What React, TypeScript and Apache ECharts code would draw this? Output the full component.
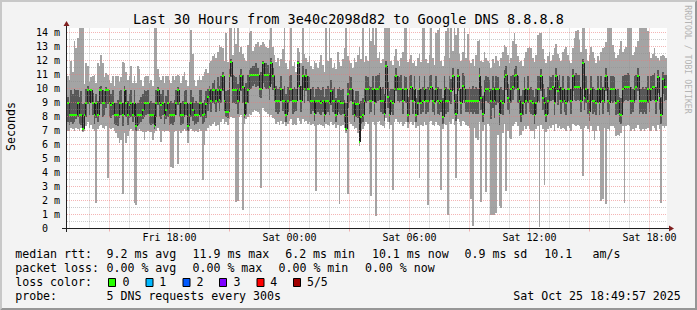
import React, { useEffect, useRef } from 'react';
import * as echarts from 'echarts';

// ---- time axis (hours counted from Fri 00:00) ----
const START_HOUR = 12.875;
const STEP_HOURS = 5 / 60; // 300 s
const END_HOUR = 42.875;

// ---- per-step values (ms): min, 2nd, median, 4th, max of 5 pings ----
const MED = [
  9.0,8.1,8.1,8.1,8.1,8.1,9.0,8.1,8.1,7.1,8.1,9.0,9.9,9.0,9.9,9.0,8.1,9.0,8.1,9.9,
  9.9,9.0,9.0,9.9,9.9,9.0,8.8,9.0,8.1,8.1,8.1,9.0,9.0,8.1,9.9,9.0,8.1,8.8,9.0,8.1,
  9.0,7.3,8.1,8.1,8.1,8.5,9.0,9.0,9.0,8.1,8.1,8.1,7.3,9.0,9.9,9.0,8.8,9.0,8.1,8.5,
  9.0,8.1,8.1,8.1,8.1,9.0,9.9,9.0,8.1,8.1,9.0,9.0,7.3,8.1,9.0,8.5,8.1,8.1,8.1,9.0,
  9.0,8.1,8.2,8.9,9.4,9.9,9.1,9.9,9.9,9.1,9.9,9.2,9.9,10.9,9.1,8.3,8.3,10.9,11.9,9.9,
  9.9,9.9,9.1,9.9,10.9,10.1,8.1,9.0,9.9,10.9,11.0,11.0,11.0,11.0,11.0,10.0,10.0,11.8,11.0,11.0,
  11.0,10.1,11.8,10.9,10.0,9.1,9.1,9.1,10.0,9.1,9.1,8.1,9.1,10.0,10.0,9.1,9.1,9.1,11.8,10.2,
  9.1,10.9,10.0,10.9,10.0,10.0,9.1,9.1,8.2,9.1,9.1,9.1,9.0,9.1,8.1,9.1,9.1,9.0,9.8,9.1,
  9.1,8.1,9.1,9.1,9.0,9.0,8.1,7.1,9.6,10.0,10.0,9.0,8.1,8.9,8.9,6.2,8.0,8.1,9.1,10.0,
  10.0,9.1,9.1,10.0,9.0,10.0,10.0,10.1,9.1,9.1,8.2,11.6,9.4,8.1,9.1,9.0,10.0,10.9,10.0,10.0,
  10.0,9.1,10.0,10.0,8.1,10.0,10.1,9.1,10.0,8.1,9.0,10.0,9.0,9.1,10.0,9.1,9.1,10.0,10.1,9.1,
  9.0,10.0,9.1,9.0,9.1,8.0,10.0,9.1,9.1,10.0,9.8,10.9,9.1,8.2,10.9,10.0,9.0,10.2,10.0,9.1,
  9.1,9.1,9.1,9.1,9.1,9.1,9.1,10.9,9.3,8.2,9.8,10.0,10.0,9.8,9.1,10.0,9.1,10.0,10.0,8.2,
  9.1,9.0,10.8,11.0,9.3,9.1,10.0,10.1,10.9,11.0,10.0,9.1,8.2,9.0,10.0,9.1,10.0,9.1,9.1,9.0,
  8.1,9.0,10.0,10.0,10.9,9.3,9.0,8.1,9.1,10.0,10.0,10.1,9.0,10.9,9.8,10.1,9.1,10.0,9.1,9.0,
  10.0,10.0,9.1,10.9,10.1,10.1,10.1,10.1,9.1,11.8,9.3,10.0,9.1,8.3,10.0,9.1,9.1,9.0,10.0,9.0,
  10.0,9.1,10.0,10.9,9.1,9.0,10.0,10.0,10.0,9.0,9.1,8.2,8.1,10.0,10.1,10.1,10.1,10.1,9.1,9.1,
  10.0,10.1,10.9,9.1,9.1,9.1,9.1,9.1,10.0,9.1,10.0,10.1,10.1,9.1,10.8,9.3,8.1,10.7,10.1,10.1,
];
const LO = [
  7.0,7.0,7.2,7.1,7.0,7.2,7.1,7.0,7.2,6.9,7.0,7.3,7.6,7.2,7.4,7.1,7.0,1.8,7.1,7.3,
  7.4,7.2,7.1,7.3,3.6,7.2,7.1,7.2,7.0,6.8,6.5,6.1,6.3,2.5,6.8,6.1,6.6,7.0,7.1,7.0,
  1.8,1.7,7.0,7.1,7.0,6.9,6.3,6.9,7.0,6.9,6.9,6.3,6.8,7.0,7.2,7.0,6.2,7.0,6.9,7.0,
  7.0,6.9,4.4,4.3,6.9,7.0,4.6,7.0,6.8,7.0,7.1,7.0,6.1,7.0,7.1,7.0,6.9,7.0,6.9,7.1,
  7.0,3.5,6.0,7.0,7.2,7.4,7.3,7.5,7.6,7.3,7.4,7.0,7.6,7.8,7.5,7.6,7.4,7.8,8.0,7.9,
  7.9,1.9,2.0,8.0,8.1,1.35,7.5,7.8,8.0,8.2,8.1,8.3,8.5,8.4,8.3,8.2,2.9,8.6,8.4,8.3,
  8.2,8.0,8.1,7.9,7.8,7.5,7.6,7.4,7.7,7.5,7.6,7.3,7.5,7.7,7.8,7.4,7.5,7.4,7.9,7.7,
  7.5,7.8,7.6,7.7,7.5,7.6,7.4,7.5,7.3,2.7,7.4,7.5,7.4,7.3,7.2,7.5,7.4,7.3,7.6,7.4,
  7.5,7.2,7.4,1.75,7.3,7.4,7.2,6.8,2.5,7.6,7.5,7.3,7.1,7.2,6.8,5.9,7.0,7.1,7.3,7.6,
  7.5,5.5,2.3,7.6,7.4,0.9,7.6,7.7,7.4,7.3,7.2,7.9,7.6,7.1,7.4,2.75,7.6,7.8,7.6,7.5,
  7.6,7.3,7.5,7.6,7.2,7.5,7.6,7.4,7.6,7.2,7.3,3.6,7.4,7.3,7.6,7.4,1.7,7.6,7.7,7.4,
  7.3,7.6,7.4,7.3,2.75,7.1,7.5,7.4,0.95,7.6,7.5,7.8,7.4,3.6,7.8,7.6,7.3,7.7,7.6,7.4,
  7.3,7.2,2.1,0.15,7.2,6.5,6.3,7.6,1.9,7.0,7.4,2.6,7.5,7.3,1.0,0.95,1.0,1.1,6.7,1.6,
  1.5,6.8,7.5,2.7,7.0,6.5,6.4,7.3,7.5,7.6,7.3,6.6,6.7,7.0,7.3,7.1,7.3,7.1,7.0,7.0,
  6.4,7.1,7.3,0.1,7.4,7.1,3.1,6.9,7.1,7.3,7.2,7.4,7.0,7.5,7.2,7.3,7.1,7.2,7.1,7.0,
  7.3,7.2,7.0,7.5,7.4,7.3,7.4,7.3,7.1,3.75,7.2,7.3,7.1,6.9,7.3,7.0,6.3,7.0,7.3,7.0,
  2.0,2.1,7.2,1.75,7.1,7.0,7.3,7.3,7.2,6.6,6.7,6.6,6.8,7.3,1.8,7.3,7.4,7.3,7.0,7.1,
  7.0,7.2,7.4,7.1,7.0,7.1,7.0,7.1,7.2,7.0,7.0,7.3,7.2,7.0,7.4,7.1,1.8,7.3,7.2,7.3,
];
const Q1 = [
  7.6,7.4,7.6,7.5,7.6,7.8,8.0,7.5,7.4,7.0,7.6,8.0,8.9,8.1,9.0,8.1,7.5,7.9,7.6,8.5,
  8.9,8.0,8.1,8.6,8.9,8.0,7.9,8.1,7.5,7.4,7.3,7.9,8.1,7.3,8.8,8.0,7.4,7.9,8.0,7.6,
  8.0,7.0,7.4,7.5,7.6,7.8,8.0,8.1,8.2,7.5,7.4,7.5,7.1,8.0,8.8,8.0,7.8,8.1,7.5,7.8,
  8.0,7.4,7.5,7.4,7.6,8.1,8.8,8.0,7.4,7.5,8.0,8.1,7.0,7.4,8.0,7.7,7.4,7.5,7.6,8.1,
  8.0,7.5,7.6,7.9,8.4,8.9,8.3,9.0,8.9,8.3,9.0,8.4,9.0,9.8,8.4,8.0,7.9,9.9,10.8,9.0,
  9.0,8.9,8.2,9.0,9.8,9.0,7.9,8.2,9.0,9.9,10.0,10.2,10.3,10.1,10.2,9.4,9.3,10.4,10.1,10.0,
  10.0,9.2,10.3,9.9,9.1,8.3,8.2,8.3,9.1,8.4,8.2,7.6,8.3,9.0,9.1,8.2,8.3,8.4,10.1,9.2,
  8.3,9.9,9.0,9.8,9.1,9.0,8.2,8.4,7.7,8.2,8.3,8.2,8.1,8.3,7.6,8.2,8.3,8.1,8.8,8.3,
  8.2,7.6,8.3,8.2,8.1,8.2,7.6,7.0,8.6,9.0,9.1,8.1,7.6,8.0,7.9,6.1,7.5,7.6,8.3,9.0,
  9.1,8.2,8.3,9.1,8.1,9.0,9.1,9.2,8.3,8.2,7.7,10.0,8.6,7.6,8.3,8.1,9.0,9.8,9.1,9.0,
  9.1,8.2,9.1,9.0,7.6,9.0,9.2,8.2,9.1,7.6,8.1,9.0,8.2,8.3,9.1,8.2,8.3,9.0,9.2,8.3,
  8.1,9.1,8.2,8.1,8.3,7.5,9.0,8.2,8.3,9.1,8.9,9.9,8.2,7.7,9.8,9.1,8.2,9.2,9.0,8.3,
  8.3,8.2,8.3,8.2,8.3,8.2,8.2,9.8,8.5,7.6,8.8,9.1,9.0,8.9,7.8,8.6,7.9,8.8,9.0,7.4,
  8.2,8.1,9.6,9.9,8.5,8.2,9.0,9.2,9.9,10.0,9.0,8.2,7.6,8.1,9.1,8.2,9.0,8.3,8.2,8.1,
  7.5,8.2,9.1,9.0,9.8,8.5,8.1,7.6,8.2,9.0,9.1,9.2,8.1,9.9,8.8,9.2,8.2,9.0,8.3,8.1,
  9.1,9.0,8.2,9.8,9.2,9.1,9.2,9.1,8.3,10.0,8.5,9.0,8.2,7.7,9.1,8.2,8.3,8.1,9.0,8.1,
  9.1,8.2,9.0,9.8,8.3,8.1,9.1,9.0,9.1,8.1,8.2,7.6,7.5,9.0,9.1,9.2,9.1,9.2,8.2,8.3,
  9.0,9.2,9.8,8.2,8.3,8.2,8.3,8.2,9.0,8.3,9.1,9.2,9.1,8.2,9.7,8.5,7.5,9.6,9.1,9.2,
];
const Q3 = [
  9.4,9.0,9.9,9.6,10.0,9.9,9.9,9.4,9.8,8.9,9.0,10.0,10.2,9.9,10.0,9.7,9.0,9.6,9.1,10.1,
  10.2,9.9,9.8,10.1,10.0,9.9,9.6,9.9,9.0,9.0,9.2,9.8,9.9,9.0,10.2,9.9,9.1,9.6,9.9,9.0,
  9.9,8.9,9.0,9.2,9.4,9.6,9.9,9.8,9.9,9.0,9.1,9.0,9.0,9.9,10.1,9.9,9.6,9.9,9.0,9.5,
  9.9,9.0,9.1,9.0,9.2,9.9,10.1,9.9,9.0,9.1,9.8,9.9,8.9,9.0,9.9,9.4,9.0,9.1,9.0,9.9,
  9.9,9.0,9.2,9.8,10.0,10.2,10.0,10.4,10.6,10.0,10.8,10.2,10.9,11.2,10.1,9.8,9.9,11.4,12.1,11.0,
  10.9,10.8,10.3,11.0,11.4,11.0,10.0,10.4,11.0,11.3,11.5,11.6,11.6,11.8,11.5,11.0,11.2,12.0,11.7,11.8,
  11.7,11.1,12.2,11.5,11.0,10.2,10.0,10.1,10.9,10.0,10.2,9.6,10.1,10.9,11.0,10.0,10.1,10.0,12.0,11.2,
  10.2,11.6,11.0,11.4,10.9,10.8,10.0,10.1,9.4,10.0,10.1,10.0,9.9,10.1,9.4,10.0,10.2,10.0,10.6,10.0,
  10.1,9.3,10.0,10.1,9.9,10.0,9.2,9.0,10.4,10.9,10.8,9.9,9.2,9.8,9.8,8.9,9.1,9.3,10.0,10.9,
  10.8,10.2,10.1,10.9,10.0,10.9,11.0,11.1,10.0,10.1,9.6,12.0,10.5,9.8,10.0,10.0,10.9,11.5,10.9,10.8,
  11.0,10.0,10.9,10.8,9.4,10.9,11.0,10.0,10.9,9.3,9.9,10.9,10.0,10.1,10.9,10.0,10.1,10.9,11.0,10.0,
  9.9,10.9,10.1,10.0,10.0,9.3,10.9,10.1,10.0,10.9,10.7,11.5,10.1,9.6,11.4,10.9,10.0,11.1,10.9,10.0,
  10.0,10.1,10.0,10.2,10.0,10.1,10.0,11.5,10.2,9.5,10.6,10.9,10.8,10.6,10.0,10.9,10.1,10.9,10.8,9.5,
  10.1,9.9,11.3,11.6,10.3,10.0,10.9,11.0,11.4,11.6,10.9,10.0,9.5,9.9,10.8,10.0,10.9,10.0,10.1,9.9,
  9.4,10.0,10.9,10.9,11.4,10.3,10.0,9.4,10.1,10.9,10.8,11.0,10.0,11.5,10.6,11.0,10.1,10.9,10.0,9.9,
  10.9,10.8,10.0,11.4,11.0,11.1,11.0,11.0,10.0,12.1,10.3,10.9,10.0,9.6,10.9,10.1,10.0,9.9,10.9,10.0,
  10.9,10.1,10.8,11.5,10.1,9.9,10.9,10.9,10.8,9.9,10.0,9.4,9.3,10.9,11.0,11.0,11.1,11.0,10.1,10.0,
  10.9,11.0,11.5,10.1,10.0,10.1,10.0,10.1,10.9,10.0,10.9,11.0,11.1,10.1,11.3,10.3,9.4,11.2,11.0,11.0,
];
const HI = [
  10.9,10.6,12.0,11.2,13.4,12.9,13.6,14.3,14.3,14.3,10.3,11.8,11.6,10.5,10.8,10.9,11.0,10.4,11.8,11.6,
  12.4,11.8,10.8,11.1,11.0,10.6,10.4,10.9,10.2,10.9,10.9,10.5,10.8,11.9,11.8,11.2,10.6,10.9,11.6,10.4,
  10.9,10.4,11.6,11.4,10.6,10.2,10.8,10.9,10.9,10.4,10.6,10.2,14.3,14.3,11.4,10.8,10.6,10.9,10.4,10.9,
  10.9,10.6,10.4,10.9,10.6,10.9,11.0,10.9,10.4,10.9,11.2,10.6,10.2,11.9,14.2,12.5,10.6,10.2,10.6,10.9,
  10.6,10.9,11.2,11.4,11.1,11.8,12.0,12.3,12.5,12.2,12.6,13.1,13.0,12.9,12.0,14.0,11.9,14.3,14.3,12.4,
  14.3,13.2,14.3,12.6,13.0,12.5,12.2,12.0,13.1,14.0,14.1,12.7,13.0,13.2,13.3,13.0,13.1,13.3,13.2,13.0,
  12.9,13.5,14.3,13.0,12.4,11.9,12.2,11.6,12.1,12.8,14.3,11.8,11.4,12.0,14.3,11.6,11.9,11.2,12.9,12.6,
  11.8,14.3,12.5,12.2,11.9,12.3,11.6,11.4,12.0,11.8,11.5,11.9,12.4,11.7,11.2,14.3,12.0,14.3,12.2,11.5,
  11.8,11.4,12.6,11.9,11.6,12.1,12.9,14.3,12.3,12.0,11.8,11.5,12.2,11.9,12.4,13.0,12.1,14.3,11.9,12.3,
  12.0,14.3,13.4,14.3,13.1,14.3,12.2,12.6,11.8,12.1,14.3,14.3,14.3,14.3,12.0,11.7,12.3,12.8,12.0,11.6,
  12.2,12.6,14.3,14.3,11.9,12.1,12.4,11.8,12.0,11.6,12.2,12.5,11.9,14.3,14.3,12.1,11.8,12.4,14.3,12.2,
  11.7,14.0,14.2,14.3,12.0,11.6,12.3,14.1,14.3,12.2,14.3,12.7,14.3,13.8,14.3,12.5,12.0,12.6,14.3,12.2,
  13.9,12.0,11.8,12.1,11.6,12.4,13.4,13.5,12.0,11.9,12.6,12.2,12.0,11.8,11.5,12.1,11.8,12.3,12.0,11.6,
  12.2,12.6,13.1,13.0,12.4,11.8,12.2,13.4,14.0,13.2,12.3,11.9,12.0,11.6,12.2,12.6,12.9,13.0,12.9,12.2,
  11.9,12.4,13.8,14.0,14.0,12.8,12.1,11.8,12.3,12.6,12.0,12.4,12.9,13.2,12.5,12.2,12.0,12.6,12.8,13.0,
  12.4,12.0,11.8,12.9,13.6,14.1,14.2,13.5,12.6,14.3,14.3,12.8,12.0,12.4,13.0,12.6,12.2,11.8,12.3,12.0,
  12.6,12.9,13.0,13.3,14.3,14.3,14.3,13.1,12.6,12.2,12.4,12.8,13.4,12.6,12.8,13.0,14.3,14.3,14.3,12.4,
  12.6,13.0,13.4,14.3,14.3,14.3,14.3,14.3,14.1,12.6,12.2,12.5,12.9,12.3,12.2,12.0,12.3,12.4,12.3,12.2,
];

// ---- axes ----
const X_LABEL_HOURS = [18, 24, 30, 36, 42];
const X_LABELS = ['Fri 18:00', 'Sat 00:00', 'Sat 06:00', 'Sat 12:00', 'Sat 18:00'];
const Y_LABEL_VALUES = [0, 1, 2, 3, 4, 5, 6, 7, 8, 9, 10, 11, 12, 13, 14];
const V_MAJOR = [15, 18, 21, 24, 27, 30, 33, 36, 39, 42];
const V_MINOR = [13, 14, 16, 17, 19, 20, 22, 23, 25, 26, 28, 29, 31, 32, 34, 35, 37, 38, 40, 41];
const H_MAJOR = [1, 2, 3, 4, 5, 6, 7, 8, 9, 10, 11, 12, 13, 14];
const H_MINOR = [0.5, 1.5, 2.5, 3.5, 4.5, 5.5, 6.5, 7.5, 8.5, 9.5, 10.5, 11.5, 12.5, 13.5];

// ---- texts ----
const TITLE = 'Last 30 Hours from 3e40c2098d82 to Google DNS 8.8.8.8';
const Y_NAME = 'Seconds';
const WATERMARK = 'RRDTOOL / TOBI OETIKER';
const RTT_LABEL = 'median rtt:';
const RTT_STATS = ['9.2 ms avg', '11.9 ms max', '6.2 ms min', '10.1 ms now', '0.9 ms sd', '10.1', 'am/s'];
const LOSS_LABEL = 'packet loss:';
const LOSS_STATS = ['0.00 % avg', '0.00 % max', '0.00 % min', '0.00 % now'];
const COLOR_LABEL = 'loss color:';
const LOSS_NAMES = ['0', '1', '2', '3', '4', '5/5'];
const LOSS_COLORS = ['#26ff00', '#00b8ff', '#0059ff', '#7e00ff', '#ff0000', '#a00000'];
const PROBE_LABEL = 'probe:';
const PROBE_TEXT = '5 DNS requests every 300s';
const STAMP = 'Sat Oct 25 18:49:57 2025';

// ---- layout ----
const W = 697;
const H = 310;
const GRID_LEFT = 67;
const GRID_TOP = 28;
const GRID_W = 600;
const GRID_H = 200.5;
const Y_MAX = GRID_H / 14;
const MONO = 'DejaVu Sans Mono';
const LEG_FONT = 11.6;
const ROW_Y = [254.3, 268.3, 282.3, 296.3];
const LABEL_X = 15.2;
const RTT_X = [106.5, 192.5, 285.2, 371.9, 464.5, 544.2, 592.5];
const LOSS_X = [106.5, 192.5, 278.5, 364.9];
const SWATCH_X = [108, 145.5, 182.5, 219, 256.5, 293];
const NAME_X = [122.5, 159.3, 196.5, 233.5, 270.2, 306.9];

const MAJOR_COLOR = 'rgba(235,120,120,0.55)';
const MINOR_COLOR = 'rgba(140,140,140,0.45)';

function legendText(text: string, x: number, y: number, align = 'left') {
  return {
    type: 'text',
    x,
    y,
    z: 50,
    silent: true,
    style: {
      text,
      fill: '#000',
      fontFamily: MONO,
      fontSize: LEG_FONT,
      align,
      verticalAlign: 'middle',
      textAlign: align,
      textVerticalAlign: 'middle',
    },
  };
}

function buildOption() {
  const data = MED.map((m, i) => [START_HOUR + i * STEP_HOURS, LO[i], Q1[i], m, Q3[i], HI[i], i > 0 ? MED[i - 1] : m]);

  const markData: any[] = [];
  V_MINOR.forEach((v) => markData.push({ xAxis: v, lineStyle: { color: MINOR_COLOR, type: [1, 1], width: 1 } }));
  H_MINOR.forEach((v) => markData.push({ yAxis: v, lineStyle: { color: MINOR_COLOR, type: [1, 1], width: 1 } }));
  V_MAJOR.forEach((v) => markData.push({ xAxis: v, lineStyle: { color: MAJOR_COLOR, type: [1, 1], width: 1 } }));
  H_MAJOR.forEach((v) => markData.push({ yAxis: v, lineStyle: { color: MAJOR_COLOR, type: [1, 1], width: 1 } }));

  const graphics: any[] = [];
  // 3D frame
  graphics.push({
    type: 'polygon', z: 60, silent: true,
    shape: { points: [[0, H], [2, H - 2], [2, 2], [W - 2, 2], [W, 0], [0, 0]] },
    style: { fill: '#c8c8c8' },
  });
  graphics.push({
    type: 'polygon', z: 60, silent: true,
    shape: { points: [[2, H - 2], [W - 2, H - 2], [W - 2, 2], [W, 0], [W, H], [0, H]] },
    style: { fill: '#969696' },
  });
  // axes
  graphics.push({ type: 'line', z: 40, silent: true, shape: { x1: 62, y1: 228.5, x2: 670, y2: 228.5 }, style: { stroke: '#202020', lineWidth: 1 } });
  graphics.push({ type: 'line', z: 40, silent: true, shape: { x1: 66.5, y1: 232, x2: 66.5, y2: 25 }, style: { stroke: '#202020', lineWidth: 1 } });
  graphics.push({ type: 'polygon', z: 41, silent: true, shape: { points: [[669, 225.5], [674, 228.5], [669, 231.5]] }, style: { fill: '#7f1f1f' } });
  graphics.push({ type: 'polygon', z: 41, silent: true, shape: { points: [[63.5, 26], [66.5, 21], [69.5, 26]] }, style: { fill: '#7f1f1f' } });
  // y title
  graphics.push({
    type: 'text', x: 11, y: 126.5, rotation: Math.PI / 2, z: 50, silent: true,
    style: { text: Y_NAME, fill: '#000', fontFamily: MONO, fontSize: LEG_FONT, align: 'center', verticalAlign: 'middle', textAlign: 'center', textVerticalAlign: 'middle' },
  });
  // watermark
  graphics.push({
    type: 'text', x: 688, y: 59.5, rotation: -Math.PI / 2, z: 50, silent: true,
    style: { text: WATERMARK, fill: '#b4b4b4', fontFamily: MONO, fontSize: 8.2, align: 'center', verticalAlign: 'middle', textAlign: 'center', textVerticalAlign: 'middle' },
  });
  // legend rows
  graphics.push(legendText(RTT_LABEL, LABEL_X, ROW_Y[0]));
  RTT_STATS.forEach((t, i) => graphics.push(legendText(t, RTT_X[i], ROW_Y[0])));
  graphics.push(legendText(LOSS_LABEL, LABEL_X, ROW_Y[1]));
  LOSS_STATS.forEach((t, i) => graphics.push(legendText(t, LOSS_X[i], ROW_Y[1])));
  graphics.push(legendText(COLOR_LABEL, LABEL_X, ROW_Y[2]));
  LOSS_NAMES.forEach((t, i) => {
    graphics.push({
      type: 'rect', z: 50, silent: true,
      shape: { x: SWATCH_X[i] + 0.5, y: 278.5, width: 7, height: 8 },
      style: { fill: LOSS_COLORS[i], stroke: '#000', lineWidth: 1 },
    });
    graphics.push(legendText(t, NAME_X[i], ROW_Y[2]));
  });
  graphics.push(legendText(PROBE_LABEL, LABEL_X, ROW_Y[3]));
  graphics.push(legendText(PROBE_TEXT, 106.5, ROW_Y[3]));
  graphics.push(legendText(STAMP, 680.8, ROW_Y[3], 'right'));

  return {
    animation: false,
    backgroundColor: '#f3f3f3',
    title: {
      text: TITLE,
      left: 'center',
      top: 12,
      padding: 0,
      textStyle: { fontFamily: MONO, fontSize: 13.5, fontWeight: 'normal', color: '#000' },
    },
    grid: {
      left: GRID_LEFT, top: GRID_TOP, width: GRID_W, height: GRID_H,
      show: true, backgroundColor: '#ffffff', borderWidth: 0,
    },
    xAxis: {
      type: 'value',
      min: START_HOUR,
      max: END_HOUR,
      axisLine: { show: false },
      splitLine: { show: false },
      axisTick: { show: true, customValues: V_MAJOR, length: 3, lineStyle: { color: MAJOR_COLOR } },
      axisLabel: {
        customValues: X_LABEL_HOURS,
        formatter: (v: number) => {
          const idx = X_LABEL_HOURS.indexOf(Math.round(v));
          return idx >= 0 ? X_LABELS[idx] : '';
        },
        fontFamily: MONO, fontSize: 10, color: '#000', margin: 4,
      },
    },
    yAxis: {
      type: 'value',
      min: 0,
      max: Y_MAX,
      axisLine: { show: false },
      axisTick: { show: false },
      splitLine: { show: false },
      axisLabel: {
        customValues: Y_LABEL_VALUES,
        formatter: (v: number) => (Math.round(v) === 0 ? '{z|0}' : `${Math.round(v)} m`),
        rich: { z: { fontFamily: MONO, fontSize: 10, color: '#000', padding: [0, 12, 0, 0] } },
        fontFamily: MONO, fontSize: 10, color: '#000', margin: 7,
      },
    },
    graphic: graphics,
    series: [
      {
        type: 'custom',
        z: 2,
        silent: true,
        clip: true,
        data,
        encode: { x: 0, y: [1, 5] },
        renderItem: (params: any, api: any) => {
          const t = api.value(0);
          const xl = Math.round(api.coord([t, 0])[0]);
          const xr = Math.round(api.coord([t + STEP_HOURS, 0])[0]);
          const w = xr - xl;
          const py = (v: number) => Math.round(api.coord([t, v])[1]);
          const yLo = py(api.value(1));
          const yQ1 = py(api.value(2));
          const yMed = py(api.value(3));
          const yQ3 = py(api.value(4));
          const yHi = py(api.value(5));
          const yPrev = py(api.value(6));
          const children: any[] = [
            { type: 'rect', shape: { x: xl, y: yHi, width: w, height: Math.max(1, yLo - yHi) }, style: { fill: '#a4a4a4' } },
            { type: 'rect', shape: { x: xl, y: yQ3, width: w, height: Math.max(1, yQ1 - yQ3) }, style: { fill: '#585858' } },
          ];
          if (yPrev !== yMed) {
            children.push({ type: 'line', shape: { x1: xl + 0.5, y1: yPrev, x2: xl + 0.5, y2: yMed }, style: { stroke: '#202020', lineWidth: 1 } });
          }
          children.push({ type: 'rect', shape: { x: xl, y: yMed - 1, width: w, height: 2 }, style: { fill: LOSS_COLORS[0] } });
          return { type: 'group', children };
        },
      },
      {
        type: 'line',
        z: 5,
        silent: true,
        data: [],
        markLine: {
          silent: true,
          symbol: ['none', 'none'],
          label: { show: false },
          animation: false,
          data: markData,
        },
      },
    ],
  };
}

export default function App() {
  const ref = useRef<HTMLDivElement>(null);
  useEffect(() => {
    if (!ref.current) return;
    const chart = echarts.init(ref.current, null, { renderer: 'svg' });
    chart.setOption(buildOption() as any);
    return () => chart.dispose();
  }, []);
  return <div ref={ref} style={{ position: 'absolute', left: 0, top: 0, width: W, height: H }} />;
}
